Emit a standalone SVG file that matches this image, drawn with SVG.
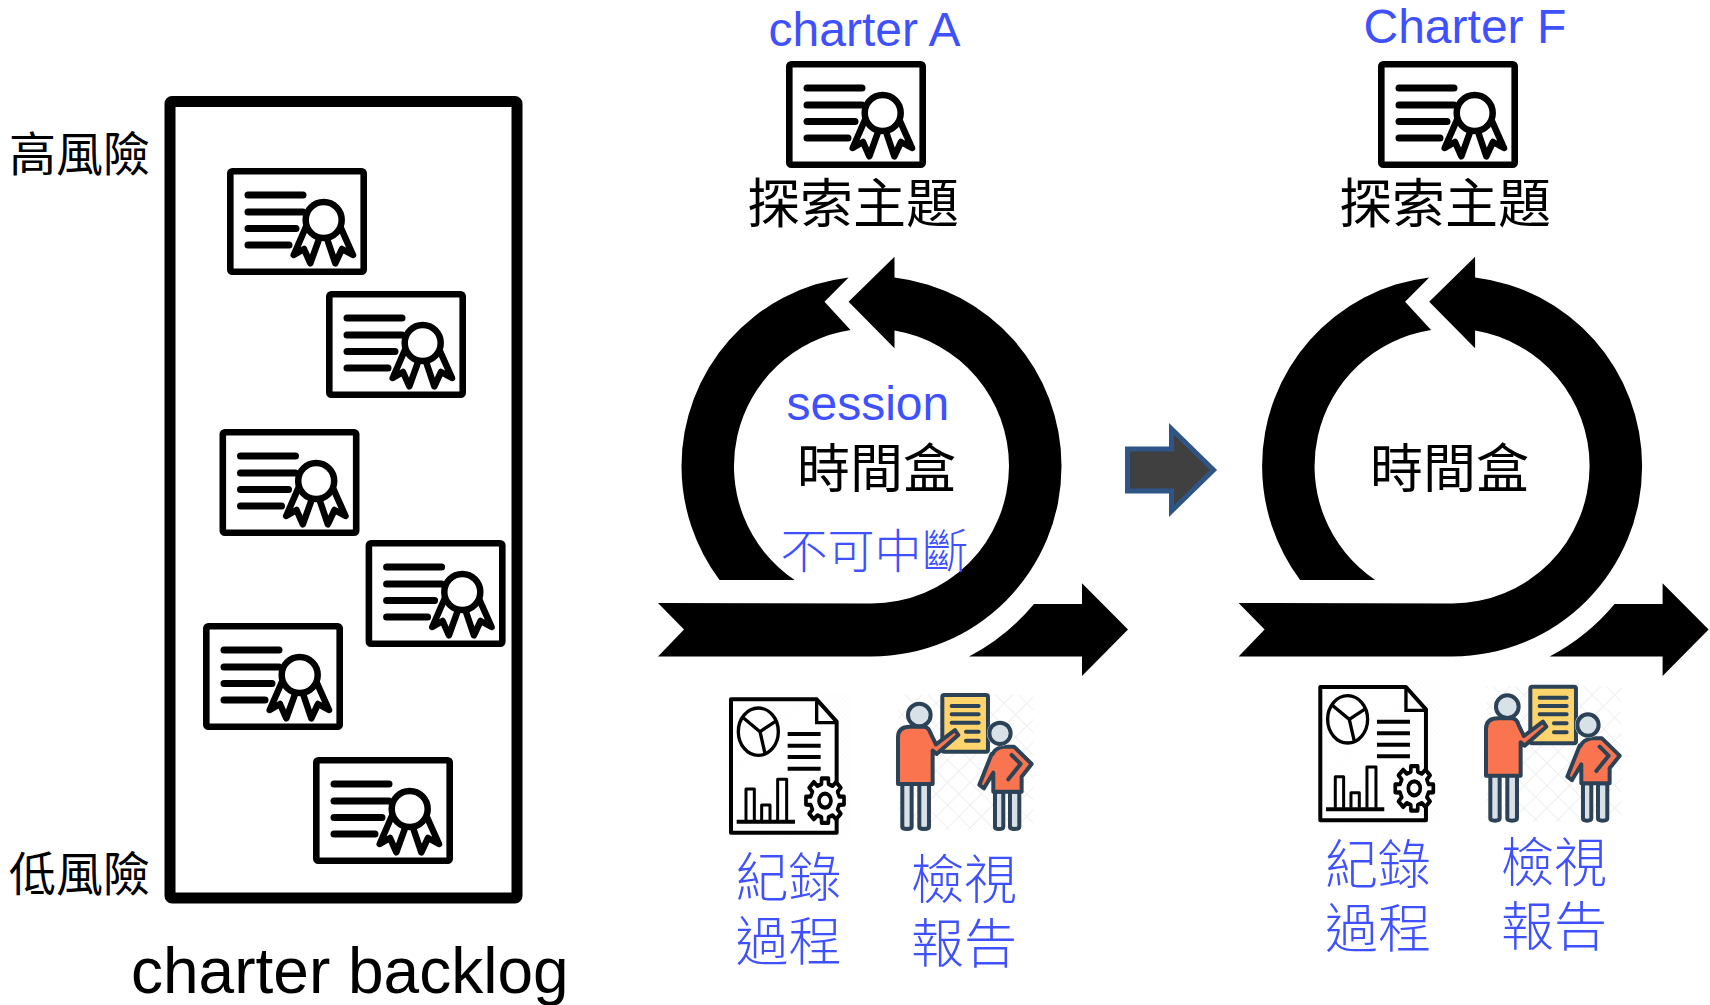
<svg xmlns="http://www.w3.org/2000/svg" width="1710" height="1005" viewBox="0 0 1710 1005">
<style>
text{font-family:"Liberation Sans","Noto Sans CJK TC",sans-serif}
.cjk{font-family:"Noto Sans CJK TC","Noto Sans CJK SC",sans-serif;font-weight:400}
.blue{fill:#3f51ff}
.cjk.blue{font-weight:300}
.k{fill:#000}
.s53{font-size:53px}.s48{font-size:48px}.s47{font-size:47px}
.ln{stroke:#000;stroke-width:7;stroke-linecap:round;fill:none}
.dk{stroke:#2c4257;stroke-width:12;stroke-linecap:round;stroke-linejoin:round}
</style>
<defs>
<pattern id="cross" width="48" height="48" patternUnits="userSpaceOnUse" patternTransform="rotate(45)"><path d="M0 0H48M0 0V48" stroke="#ececec" stroke-width="5" fill="none"/></pattern>
<pattern id="hatch" width="10" height="10" patternUnits="userSpaceOnUse" patternTransform="rotate(-45)"><path d="M0 0H10" stroke="#f6f6f6" stroke-width="3"/></pattern>
<symbol id="cert" width="140" height="107" overflow="visible">
<rect x="3.300" y="3.300" width="133.400" height="100.400" rx="2" fill="#fff" stroke="#000" stroke-width="6.600"/>
<path class="ln" d="M21 27H76M21 44H76M21 60.500H69M21 77H62"/>
<path d="M79 58.700L66.700 87L77 81L83.300 95.300L93.300 67.700ZM113.300 58.700L126 87L115 81L108.300 95.300L99 67.700Z" fill="#fff" stroke="#000" stroke-width="6.500" stroke-linejoin="round"/>
<circle cx="96.700" cy="52" r="18" fill="#fff" stroke="#000" stroke-width="6.500"/>
</symbol>
<symbol id="doc" width="450" height="450" overflow="visible">
<rect x="50" y="40" width="370" height="435" fill="url(#hatch)"/>
<path d="M63 58H320L380 125V458H63Z" fill="#fff" fill-opacity=".6" stroke="#000" stroke-width="12" stroke-linejoin="round"/>
<path d="M320 58V128H380" fill="none" stroke="#000" stroke-width="10"/>
<ellipse cx="145" cy="155" rx="60" ry="71" fill="none" stroke="#000" stroke-width="10"/>
<path d="M150 155L98 112M150 155L200 122M150 155L165 220" fill="none" stroke="#000" stroke-width="10"/>
<path d="M233 162H332M233 197H332M233 231H332M233 266H332M80 425H255" stroke="#000" stroke-width="12" fill="none"/>
<path d="M108 420V327H133V420M155 420V375H180V420M203 420V298H230V420" fill="none" stroke="#000" stroke-width="9" stroke-linejoin="round"/>
<g transform="translate(345,362) scale(1,1.170)">
<path d="M42.700 -10.600L57.100 -10.100L57.100 10.100L42.700 10.600L37.700 22.700L47.500 33.300L33.300 47.500L22.700 37.700L10.600 42.700L10.100 57.100L-10.100 57.100L-10.600 42.700L-22.700 37.700L-33.300 47.500L-47.500 33.300L-37.700 22.700L-42.700 10.600L-57.100 10.100L-57.100 -10.100L-42.700 -10.600L-37.700 -22.700L-47.500 -33.300L-33.300 -47.500L-22.700 -37.700L-10.600 -42.700L-10.100 -57.100L10.100 -57.100L10.600 -42.700L22.700 -37.700L33.300 -47.500L47.500 -33.300L37.700 -22.700Z" fill="#fff" stroke="#000" stroke-width="11" stroke-linejoin="round"/>
<circle r="18" fill="#fff" stroke="#000" stroke-width="11"/>
</g>
</symbol>
<symbol id="present" width="450" height="450" overflow="visible">
<rect x="565" y="45" width="405" height="405" fill="url(#cross)"/>
<rect x="697" y="45" width="137" height="170" rx="6" fill="#fdd56c" class="dk"/>
<path class="dk" fill="none" d="M725 78H806M725 103H806M725 128H806M768 155H806M768 182H806"/>
<path class="dk" fill="#d8e0e8" d="M577 310H605V440Q605 447 591 447Q577 447 577 440ZM628 310H657V440Q657 447 642 447Q628 447 628 440Z"/>
<path class="dk" fill="#f9744f" d="M564 312V172Q564 140 600 140H640Q656 140 662 160L678 193L735 150L745 165L680 222L668 212V312Z"/>
<circle cx="628" cy="105" r="34" fill="#d8e0e8" class="dk"/>
<path class="dk" fill="#d8e0e8" d="M855 335H880V440Q880 447 867 447Q855 447 855 440ZM900 335H928V440Q928 447 914 447Q900 447 900 440Z"/>
<path class="dk" fill="#f9744f" d="M845 222L808 315L822 325L850 278V335H935V290L965 252L912 200H880Q855 205 848 222"/>
<path class="dk" fill="none" d="M905 225L932 252L895 298"/>
<circle cx="870" cy="160" r="39" fill="#fff"/>
<circle cx="870" cy="160" r="32" fill="#d8e0e8" class="dk"/>
</symbol>
<symbol id="loop" width="480" height="430" overflow="visible">
<path d="M658 603L684 629.500L658 656.500H871.500A190 190 0 0 0 1061.500 466A190 190 0 0 0 894.500 277.400V256.700L848.600 301.700L894.500 348.300V330.500A137.500 137.500 0 0 1 1009 466A137.500 137.500 0 0 1 871.500 603.500Z"/>
<path d="M848.600 277.400L824.500 301.700L850.500 330.100A137.500 137.500 0 0 0 794.600 580H719.500A190 190 0 0 1 681.500 466A190 190 0 0 1 848.600 277.400Z"/>
<path d="M969 656.500A214 214 0 0 0 1034 604H1082V583.300L1128 629.500L1082 676V656.500Z"/>
</symbol>
</defs>

<g id="backlog">
<rect x="170" y="101.500" width="347" height="796.500" rx="2" fill="#fff" stroke="#000" stroke-width="11"/>
<text class="k" x="131" y="993" font-size="64">charter backlog</text>
</g>
<g id="high-risk"><text class="cjk k s47" x="9" y="171">高風險</text></g>
<g id="low-risk"><text class="cjk k s47" x="9" y="891">低風險</text></g>
<g id="card-1"><use href="#cert" x="227" y="168"/></g>
<g id="card-2"><use href="#cert" x="326" y="291"/></g>
<g id="card-3"><use href="#cert" x="219.500" y="429"/></g>
<g id="card-4"><use href="#cert" x="365.600" y="540"/></g>
<g id="card-5"><use href="#cert" x="203" y="623"/></g>
<g id="card-6"><use href="#cert" x="313" y="757"/></g>

<g id="charter-a">
<text class="blue s48" x="768.500" y="46">charter A</text>
<use href="#cert" x="786" y="61"/>
<text class="cjk k s53" x="747" y="223">探索主題</text>
</g>
<g id="charter-f">
<text class="blue s48" x="1363.500" y="42.500">Charter F</text>
<use href="#cert" x="1378" y="61"/>
<text class="cjk k s53" x="1339" y="223">探索主題</text>
</g>

<g id="timebox-a">
<use href="#loop"/>
<text class="blue s48" x="786.500" y="420">session</text>
<text class="cjk k s53" x="797" y="488">時間盒</text>
<text class="cjk blue s47" x="780.500" y="568">不可中斷</text>
</g>
<g id="timebox-f">
<use href="#loop" x="580.600"/>
<text class="cjk k s53" x="1370" y="488">時間盒</text>
</g>

<g id="connectors">
<path d="M1127.500 449H1171.500V429L1213.500 470L1171.500 511V491H1127.500Z" fill="#404040" stroke="#2f5486" stroke-width="5"/>
</g>

<g id="report-a">
<use href="#doc" transform="translate(710,680) scale(.3333)"/>
<text class="cjk blue s53" x="735.500" y="897">紀錄</text>
<text class="cjk blue s53" x="735.500" y="961">過程</text>
</g>
<g id="review-a">
<use href="#present" transform="translate(710,680) scale(.3333)"/>
<text class="cjk blue s53" x="911" y="899">檢視</text>
<text class="cjk blue s53" x="911" y="963">報告</text>
</g>
<g id="report-f">
<use href="#doc" transform="translate(1299.300,667.700) scale(.3333)"/>
<text class="cjk blue s53" x="1325" y="884">紀錄</text>
<text class="cjk blue s53" x="1325" y="948">過程</text>
</g>
<g id="review-f">
<use href="#present" transform="translate(1298,671.700) scale(.3333)"/>
<text class="cjk blue s53" x="1501" y="882">檢視</text>
<text class="cjk blue s53" x="1501" y="946">報告</text>
</g>
</svg>
